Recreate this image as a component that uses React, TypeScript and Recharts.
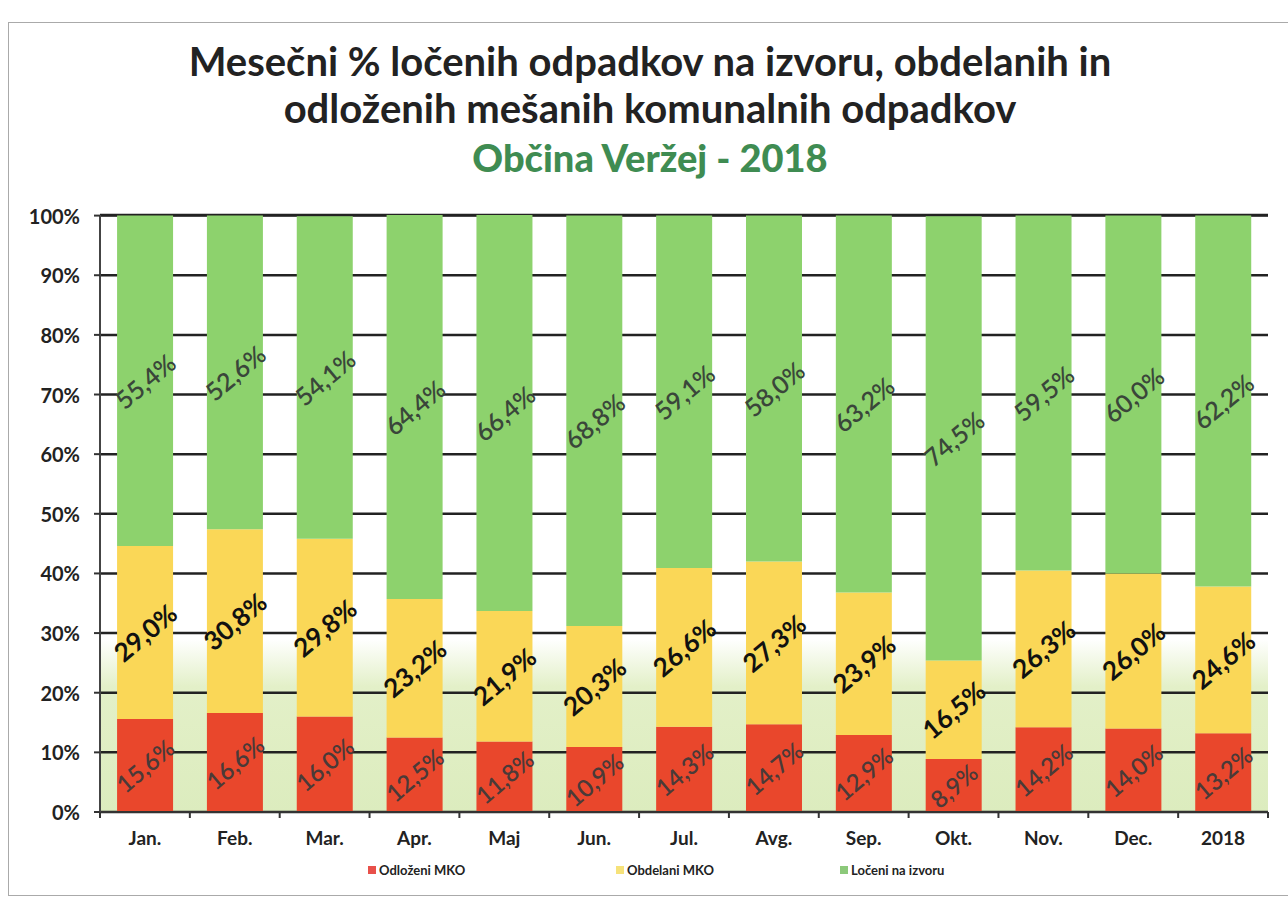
import { BarChart, Bar, XAxis, YAxis, CartesianGrid, LabelList } from 'recharts'

const months = ['Jan.', 'Feb.', 'Mar.', 'Apr.', 'Maj', 'Jun.', 'Jul.', 'Avg.', 'Sep.', 'Okt.', 'Nov.', 'Dec.', '2018']
const odlozeni = [15.6, 16.6, 16.0, 12.5, 11.8, 10.9, 14.3, 14.7, 12.9, 8.9, 14.2, 14.0, 13.2]
const obdelani = [29.0, 30.8, 29.8, 23.2, 21.9, 20.3, 26.6, 27.3, 23.9, 16.5, 26.3, 26.0, 24.6]
const loceni = [55.4, 52.6, 54.1, 64.4, 66.4, 68.8, 59.1, 58.0, 63.2, 74.5, 59.5, 60.0, 62.2]
const yTicks = [0, 10, 20, 30, 40, 50, 60, 70, 80, 90, 100]

const data = months.map((m, i) => ({ m, odl: odlozeni[i], obd: obdelani[i], loc: loceni[i] }))

const FONT = 'Lato, "Open Sans", sans-serif'
const pct = (v: number) => v.toFixed(1).replace('.', ',') + '%'

function rotLabel(color: string, size: number, weight: number, dy = 0) {
  return (p: any) => {
    const cx = p.x + p.width / 2
    const cy = p.y + p.height / 2 + dy
    return (
      <text x={cx} y={cy} transform={`rotate(-40 ${cx} ${cy})`} textAnchor="middle" dominantBaseline="central"
        fill={color} fontSize={size} fontWeight={weight} fontFamily={FONT}>
        {pct(p.value)}
      </text>
    )
  }
}

function MonthTick(p: any) {
  const band = p.width / p.visibleTicksCount
  const bx = p.x - band / 2
  return (
    <g>
      <line x1={bx} x2={bx} y1={p.y - 8} y2={p.y - 2} stroke="#333" strokeWidth={2} />
      {p.index === months.length - 1 && (
        <line x1={bx + band} x2={bx + band} y1={p.y - 8} y2={p.y - 2} stroke="#333" strokeWidth={2} />
      )}
      <text x={p.x} y={p.y + 25} textAnchor="middle" fontSize={19} fontWeight={700} fill="#222" fontFamily={FONT}>
        {p.payload.value}
      </text>
    </g>
  )
}

function PctTick(p: any) {
  return (
    <text x={p.x - 12} y={p.y} textAnchor="end" dominantBaseline="central" fontSize={20} fontWeight={700}
      fill="#222" fontFamily={FONT}>
      {p.payload.value}%
    </text>
  )
}

const legendItems = [
  { name: 'Odloženi MKO', color: '#e8504a' },
  { name: 'Obdelani MKO', color: '#f6e27a' },
  { name: 'Ločeni na izvoru', color: '#8cc97a' },
]

export default function App() {
  return (
    <div style={{ position: 'fixed', left: 0, top: 0, width: 1288, height: 910, background: '#fff', fontFamily: FONT }}>
      <div style={{ position: 'absolute', left: 8, top: 22, width: 1290, height: 872, border: '1px solid #aaa' }} />
      <div style={{ position: 'absolute', top: 38, left: 0, width: 1288, textAlign: 'center', color: '#222', fontWeight: 700 }}>
        <div style={{ fontSize: 40, lineHeight: '47px', marginLeft: 12 }}>Mesečni % ločenih odpadkov na izvoru, obdelanih in</div>
        <div style={{ fontSize: 40, lineHeight: '47px', marginLeft: 12 }}>odloženih mešanih komunalnih odpadkov</div>
        <div style={{ fontSize: 38, lineHeight: '50px', color: '#3f8c52', fontWeight: 900, marginLeft: 12 }}>Občina Veržej - 2018</div>
      </div>
      <div style={{ position: 'absolute', left: 0, top: 0 }}>
        <BarChart width={1288} height={910} data={data} barCategoryGap="19%"
          margin={{ top: 215, right: 20, left: 10, bottom: 58 }}>
          <defs>
            <linearGradient id="bg" x1="0" y1="0" x2="0" y2="1">
              <stop offset="0" stopColor="#ffffff" />
              <stop offset="0.71" stopColor="#ffffff" />
              <stop offset="0.79" stopColor="#e3f0c8" />
              <stop offset="1" stopColor="#dcecbe" />
            </linearGradient>
          </defs>
          <CartesianGrid vertical={false} stroke="#222" strokeWidth={2.5} fill="url(#bg)" />
          <XAxis dataKey="m" axisLine={{ stroke: '#333', strokeWidth: 2 }} tickLine={false} tick={<MonthTick />} height={40} interval={0} />
          <YAxis domain={[0, 100]} ticks={yTicks} width={90}
            axisLine={{ stroke: '#444', strokeWidth: 2 }} tickLine={{ stroke: '#333', strokeWidth: 2 }} tickSize={6}
            tick={<PctTick />} />
          <Bar dataKey="odl" stackId="a" fill="#e9472c" isAnimationActive={false}>
            <LabelList dataKey="odl" content={rotLabel('#4a3a38', 24, 600)} />
          </Bar>
          <Bar dataKey="obd" stackId="a" fill="#fad757" isAnimationActive={false}>
            <LabelList dataKey="obd" content={rotLabel('#111', 26, 700)} />
          </Bar>
          <Bar dataKey="loc" stackId="a" fill="#8dd26d" isAnimationActive={false}>
            <LabelList dataKey="loc" content={rotLabel('#3a463a', 25, 600)} />
          </Bar>
        </BarChart>
      </div>
      <div style={{ position: 'absolute', top: 862, left: 0, width: 1288, height: 20, fontSize: 13, fontWeight: 700, color: '#222' }}>
        {legendItems.map((it, i) => (
          <div key={it.name} style={{ position: 'absolute', left: [368, 616, 840][i], display: 'flex', alignItems: 'center' }}>
            <span style={{ width: 8, height: 8, background: it.color, marginRight: 3, display: 'inline-block' }} />
            {it.name}
          </div>
        ))}
      </div>
    </div>
  )
}
